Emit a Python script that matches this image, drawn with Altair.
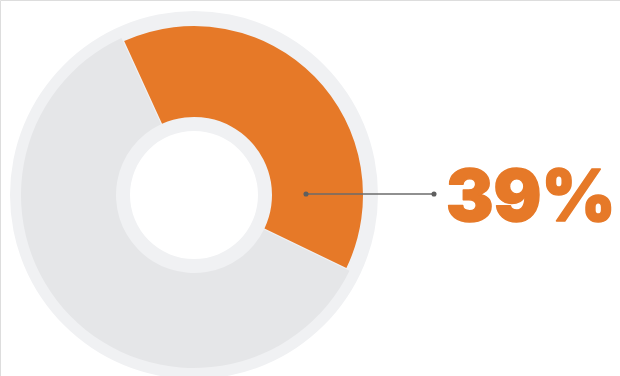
import math
import altair as alt
import pandas as pd

categories = ["Share", "Rest"]
values = [39, 61]
order = [1, 2]

df = pd.DataFrame({"category": categories, "value": values, "order": order})

CX, CY = 194, 195
ROT = math.radians(-24.6)
ORANGE = "#E67928"
GRAY = "#E5E6E8"
LIGHT = "#F0F1F3"

theta_scale = alt.Scale(domain=[0, 100], range=[ROT, ROT + 2 * math.pi])

base = (
    alt.Chart(df)
    .transform_window(cum="sum(value)", sort=[alt.SortField("order")])
    .transform_calculate(start="datum.cum - datum.value")
)

ring = base.transform_filter("datum.order == 1").mark_arc(
    radius=184, radius2=64, color=LIGHT, theta=0, theta2=2 * math.pi
).encode(x=alt.value(CX), y=alt.value(CY))

seg_enc = dict(
    theta=alt.Theta("start:Q", scale=theta_scale),
    theta2=alt.Theta2("cum:Q"),
    x=alt.value(CX),
    y=alt.value(CY),
)

gray = base.transform_filter("datum.order == 2").mark_arc(
    radius=173, radius2=78, color=GRAY, padAngle=0.006
).encode(**seg_enc)

orange = base.transform_filter("datum.order == 1").mark_arc(
    radius=169, radius2=78, color=ORANGE, padAngle=0.006
).encode(**seg_enc)

line = alt.Chart(df.iloc[:1]).mark_rule(color="#6b6b6b", strokeWidth=1.5).encode(
    x=alt.value(306), x2=alt.value(434), y=alt.value(194)
)

dots = pd.DataFrame({"px": [306, 434]})
dot = alt.Chart(dots).mark_circle(color="#5f5f5f", opacity=1, size=26).encode(
    x=alt.X("px:Q", scale=None), y=alt.value(194)
)

label = base.transform_filter("datum.order == 1").transform_calculate(
    lbl="datum.value + '%'"
).mark_text(
    font="Inter", fontWeight=900, fontSize=71, color=ORANGE,
    stroke=ORANGE, strokeWidth=1.5, strokeJoin="round",
    align="left", baseline="alphabetic"
).encode(x=alt.value(446), y=alt.value(221), text="lbl:N")

chart = (
    alt.layer(ring, gray, orange, line, dot, label)
    .properties(width=620, height=376, padding=0, autosize="none")
    .configure_view(stroke=None)
    .configure(background="white")
)

chart.save("out.html", embed_options={"renderer": "svg", "actions": False})
